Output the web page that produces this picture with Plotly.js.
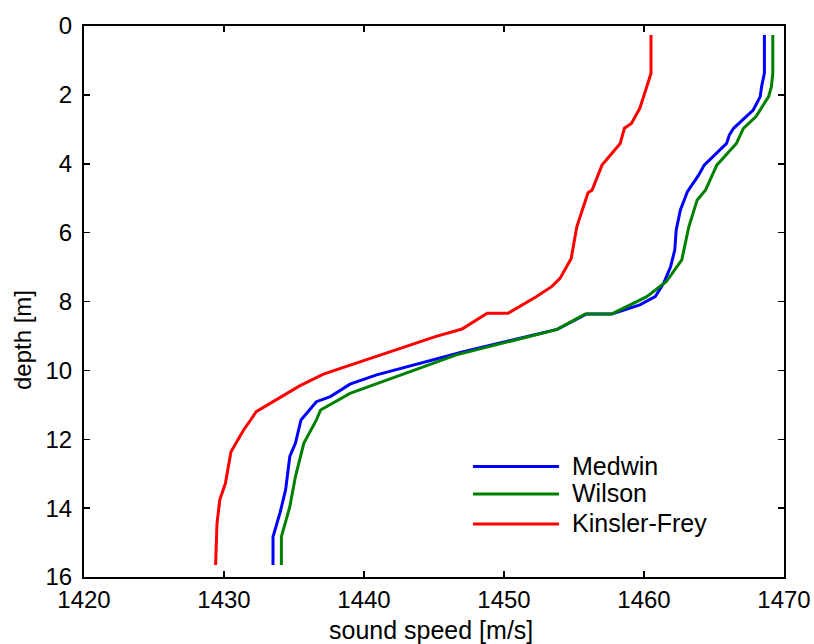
<!DOCTYPE html>
<html>
<head>
<meta charset="utf-8">
<script src="https://cdn.plot.ly/plotly-3.0.1.min.js"></script>
<style>html,body{margin:0;padding:0;background:#fff;}#chart{width:814px;height:644px;}</style>
</head>
<body>
<div id="chart"></div>
<script>
// Medwin
const medwinDepth = [0.26,1.37,1.76,2.05,2.44,2.97,3.16,3.41,4.04,4.33,4.81,5.34,5.92,6.5,6.99,7.47,7.86,8.10,8.36,8.36,8.81,9.46,10.13,10.40,10.76,10.91,11.44,12.12,12.5,13.47,14.14,14.83,15.65];
const medwinSpeed = [1468.6,1468.6,1468.4,1468.3,1467.8,1466.4,1466.1,1465.9,1464.3,1463.9,1463.1,1462.6,1462.3,1462.2,1461.9,1461.4,1460.8,1459.7,1457.7,1455.9,1453.8,1447.1,1440.9,1439.0,1437.6,1436.6,1435.5,1435.1,1434.7,1434.4,1434.0,1433.5,1433.5];
// Wilson
const wilsonDepth = [0.26,1.37,1.76,2.05,2.63,2.97,3.41,4.04,4.76,5.05,5.83,6.79,7.42,7.86,8.36,8.36,8.81,9.55,10.11,10.67,11.15,11.44,12.12,13.09,13.96,14.83,15.65];
const wilsonSpeed = [1469.2,1469.2,1469.1,1468.9,1468.0,1467.1,1466.6,1465.2,1464.4,1463.8,1463.2,1462.7,1461.6,1460.2,1457.7,1455.8,1453.8,1446.6,1442.8,1439.0,1436.9,1436.6,1435.7,1435.1,1434.7,1434.1,1434.1];
// Kinsler-Frey
const kfDepth = [0.26,1.37,1.76,2.39,2.83,2.97,3.41,4.04,4.76,4.84,5.83,6.75,7.33,7.57,7.86,8.34,8.34,8.80,9.02,9.31,9.84,10.11,10.45,11.2,11.44,11.73,12.36,13.28,13.76,14.44,15.65];
const kfSpeed = [1460.5,1460.5,1460.2,1459.7,1459.1,1458.6,1458.3,1457.0,1456.3,1456.0,1455.2,1454.8,1454.0,1453.4,1452.3,1450.3,1448.8,1447.0,1445.1,1443.0,1439.0,1437.1,1435.4,1432.3,1431.9,1431.4,1430.5,1430.1,1429.7,1429.5,1429.4];

const seriesNames = ['Medwin','Wilson','Kinsler-Frey'];
const seriesColors = ['#0000ff','#008000','#ff0000'];
const xTicks = [1420,1430,1440,1450,1460,1470];
const yTicks = [0,2,4,6,8,10,12,14,16];
const xTitle = 'sound speed [m/s]';
const yTitle = 'depth [m]';

const data = [
  {x: medwinSpeed, y: medwinDepth},
  {x: wilsonSpeed, y: wilsonDepth},
  {x: kfSpeed, y: kfDepth}
].map((s,i)=>({
  x: s.x, y: s.y, type:'scatter', mode:'lines', name: seriesNames[i],
  line:{color: seriesColors[i], width:3}, showlegend:false
}));

const font = 'Liberation Sans, Arial, sans-serif';

// legend drawn in paper coordinates (plot area 700 x 551 px)
const legendRowsY = [0.2004, 0.1506, 0.0962];
const legendShapes = seriesNames.map((n,i)=>({
  type:'line', xref:'paper', yref:'paper',
  x0:0.5557, x1:0.6786, y0:legendRowsY[i], y1:legendRowsY[i],
  line:{color:seriesColors[i], width:3}
}));
const legendText = seriesNames.map((n,i)=>({
  text:n, xref:'paper', yref:'paper', x:0.6943, y:legendRowsY[i], yshift:1,
  xanchor:'left', yanchor:'middle', showarrow:false,
  font:{family:font, size:25, color:'#000'}
}));

const layout = {
  width:814, height:644,
  margin:{l:84, r:30, t:26, b:67},
  paper_bgcolor:'#fff', plot_bgcolor:'#fff',
  font:{family:font, size:22, color:'#000'},
  showlegend:false,
  xaxis:{range:[1420,1470], tickvals:xTicks, ticktext:xTicks.map(String),
         ticks:'inside', ticklen:6, tickwidth:1.5, tickcolor:'#000',
         showline:true, linecolor:'#000', linewidth:2, mirror:'ticks',
         showgrid:false, zeroline:false,
         tickfont:{family:font, size:24}},
  yaxis:{range:[16,0], tickvals:yTicks, ticktext:yTicks.map(String),
         ticks:'inside', ticklen:6, tickwidth:1.5, tickcolor:'#000',
         showline:true, linecolor:'#000', linewidth:2, mirror:'ticks',
         showgrid:false, zeroline:false, ticklabelstandoff:5,
         tickfont:{family:font, size:24}},
  shapes: legendShapes,
  annotations:[
    {text:xTitle, xref:'paper', yref:'paper', x:0.496, y:0, yshift:-53, xanchor:'center', yanchor:'middle',
     showarrow:false, font:{family:font, size:25, color:'#000'}},
    {text:yTitle, xref:'paper', yref:'paper', x:0, xshift:-62, y:0.43, xanchor:'center', yanchor:'middle',
     textangle:-90, showarrow:false, font:{family:font, size:24, color:'#000'}}
  ].concat(legendText)
};
Plotly.newPlot('chart', data, layout, {displayModeBar:false, staticPlot:true});
</script>
</body>
</html>
